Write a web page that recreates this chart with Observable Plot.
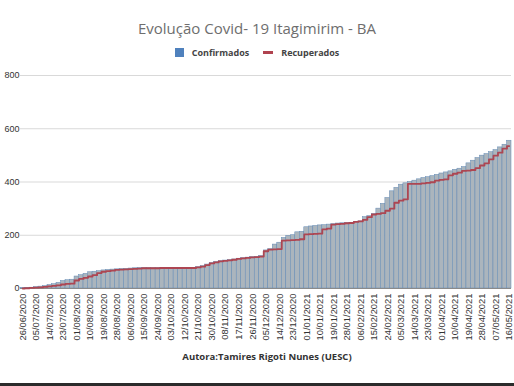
<!DOCTYPE html>
<html><head><meta charset="utf-8">
<script src="https://cdn.jsdelivr.net/npm/d3@7"></script>
<script src="https://cdn.jsdelivr.net/npm/@observablehq/plot@0.6"></script>
<style>
html,body{margin:0;padding:0}
body{width:514px;height:386px;overflow:hidden;background:#fff;position:relative;font-family:"Liberation Sans",Arial,sans-serif}
#title{position:absolute;left:0;top:16px;width:514px;text-align:center;font-family:"Open Sans",sans-serif;font-size:15px;line-height:24px;color:#6e6e6e}
#legend{position:absolute;left:0;top:44px;width:514px;height:16px;display:flex;justify-content:center;align-items:center;font-family:"Open Sans",sans-serif;font-weight:bold;font-size:9px;color:#444}
#legend .sw{display:inline-block;width:9px;height:9px;background:#4f81bd;margin-right:8px}
#legend .ln{display:inline-block;width:10px;height:3px;background:#b0434f;margin-right:8px;margin-left:14px}
#chart{position:absolute;left:0;top:64px}
#caption{position:absolute;left:0;top:348px;width:514px;text-align:center;font-family:"Open Sans",sans-serif;font-weight:bold;font-size:9.5px;line-height:18px;color:#333;padding-left:20px;box-sizing:border-box}
#strip{position:absolute;left:0;top:383px;width:514px;height:3px;background:#2b2b2b}
</style></head>
<body>
<div id="title">Evolução Covid- 19 Itagimirim - BA</div>
<div id="legend"><span class="sw"></span><span>Confirmados</span><span class="ln"></span><span>Recuperados</span></div>
<div id="chart"></div>
<div id="caption">Autora:Tamires Rigoti Nunes (UESC)</div>
<div id="strip"></div>
<script>
const tickLabels = ["26/06/2020","05/07/2020","14/07/2020","23/07/2020","01/08/2020","10/08/2020","19/08/2020","28/08/2020","06/09/2020","15/09/2020","24/09/2020","03/10/2020","12/10/2020","21/10/2020","30/10/2020","08/11/2020","17/11/2020","26/11/2020","05/12/2020","14/12/2020","23/12/2020","01/01/2021","10/01/2021","19/01/2021","28/01/2021","06/02/2021","15/02/2021","24/02/2021","05/03/2021","14/03/2021","23/03/2021","01/04/2021","10/04/2021","19/04/2021","28/04/2021","07/05/2021","16/05/2021"];
const yTicks = [0,200,400,600,800];
const confirmados = [1,2,3,5,7,9,13,16,21,28,
31,33,45,50,55,61,63,65,68,70,
71,72,73,74,75,76,77,77,77,77,
77,77,77,77,77,77,77,77,77,80,
84,90,96,100,103,105,107,109,112,114,
116,118,119,122,143,148,165,172,190,198,
200,211,213,230,233,235,237,238,240,242,
244,245,246,247,250,252,268,272,280,300,
318,340,365,378,390,395,400,405,410,415,
418,422,427,432,436,440,446,450,456,470,
480,490,499,505,512,520,530,540,555];
const recuperados = [0,1,2,3,4,6,8,10,12,15,
17,18,30,36,40,45,50,58,63,65,
67,70,71,72,73,74,75,76,76,76,
76,77,77,77,77,77,77,77,77,79,
82,88,94,98,102,104,106,108,111,113,
115,117,118,120,140,146,147,148,180,181,
182,183,185,203,204,205,206,222,225,240,
242,243,245,246,250,252,258,268,278,280,
283,292,300,322,330,335,393,393,393,395,
397,399,405,408,410,425,431,435,442,443,
445,452,462,470,485,499,510,525,535];
const fmt = d3.utcFormat("%d/%m/%Y");
const datas = d3.utcDay.range(new Date(Date.UTC(2020,5,26)), new Date(Date.UTC(2021,4,17)), 3).map(fmt);
const rows = datas.map((d,i)=>({d, c: confirmados[i], r: recuperados[i]}));
const chart = Plot.plot({
  width:514, height:284, marginLeft:20, marginRight:3, marginTop:11, marginBottom:60,
  x:{type:"band", domain:datas, padding:0},
  y:{domain:[0,800]},
  style:{fontFamily:"'Liberation Sans',Arial,sans-serif", fontSize:"9px", color:"#333", background:"transparent"},
  marks:[
    Plot.gridY(yTicks,{stroke:"#d9d9d9", strokeOpacity:1}),
    Plot.barY(rows,{x:"d", y:"c", fill:"#abb5bd", stroke:"#6289b4", strokeWidth:0.5}),
    Plot.ruleY([0],{stroke:"#8a8a8a"}),
    Plot.line(rows,{x:"d", y:"r", stroke:"#ad4652", strokeWidth:1.8, curve:"step"}),
    Plot.axisY({ticks:yTicks, tickSize:0, tickPadding:1, label:null}),
    Plot.axisX({ticks:tickLabels, tickRotate:-90, tickSize:0, tickPadding:5, fontSize:9.4, label:null})
  ]
});
document.getElementById("chart").appendChild(chart);
</script>
</body></html>
